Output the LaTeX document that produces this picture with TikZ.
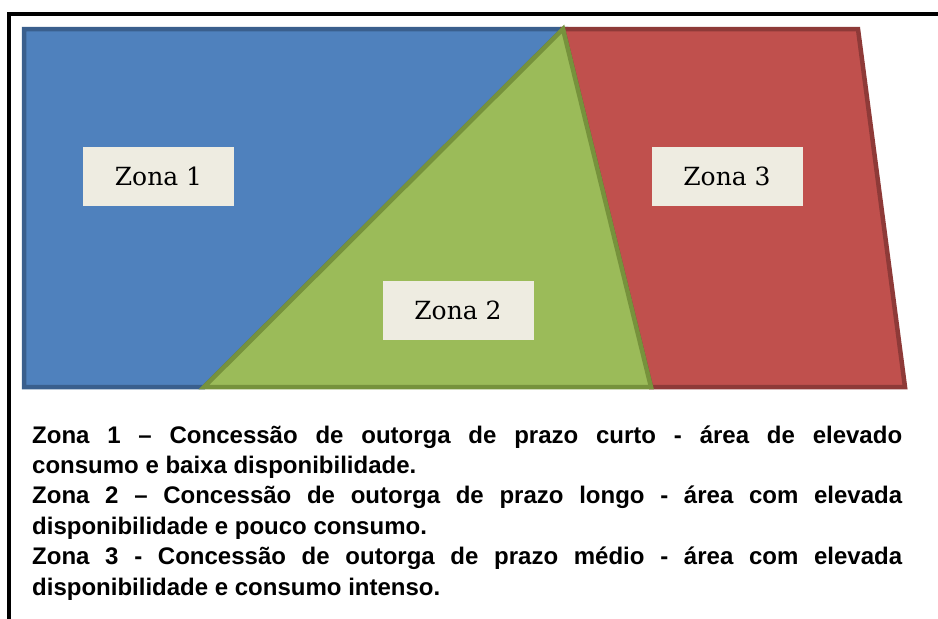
\documentclass[tikz,border=0pt]{standalone}
\usepackage{fontspec}
\setmainfont{Liberation Sans}
\newfontfamily\labelfont{DejaVu Serif}
\newfontfamily\legendfont{Liberation Sans Bold}
\usepackage{tikz}
\usetikzlibrary{positioning}
\definecolor{zoneBlue}{HTML}{4F81BD}
\definecolor{zoneBlueEdge}{HTML}{3A5F8D}
\definecolor{zoneGreen}{HTML}{9BBB59}
\definecolor{zoneGreenEdge}{HTML}{76923C}
\definecolor{zoneRed}{HTML}{C0504D}
\definecolor{zoneRedEdge}{HTML}{8E3A38}
\definecolor{labelBg}{HTML}{EEECE1}

\begin{document}
\begin{tikzpicture}[x=1pt,y=-1pt,
  zonelabel/.style={fill=labelBg,minimum width=151pt,minimum height=59pt,inner sep=0pt,
    font=\labelfont\fontsize{25}{25}\selectfont}]
\def\lw{4.5pt}
\useasboundingbox (0,0) rectangle (938,619);
% frame
\draw[line width=4pt] (9,650) -- (9,14) -- (960,14);
% corners of the zones
\coordinate (tl) at (24,29);
\coordinate (apex) at (563,29);
\coordinate (tr) at (858,29);
\coordinate (bl) at (24,387);
\coordinate (gl) at (204,387);
\coordinate (gr) at (651,387);
\coordinate (br) at (905,387);
\filldraw[fill=zoneBlue,draw=zoneBlueEdge,line width=\lw] (tl) -- (apex) -- (gl) -- (bl) -- cycle;
\filldraw[fill=zoneRed,draw=zoneRedEdge,line width=\lw] (apex) -- (tr) -- (br) -- (gr) -- cycle;
\filldraw[fill=zoneGreen,draw=zoneGreenEdge,line width=\lw] (gl) -- (apex) -- (gr) -- cycle;
\node[zonelabel] (zona1) at (158.5,176.5) {Zona 1};
\node[zonelabel] (zona3) at (727,176.5) {Zona 3};
\node[zonelabel] (zona2) at (458,310.5) {Zona 2};
% legend
\node[anchor=base west,inner sep=0pt,text width=870pt,align=justify,
  font=\legendfont\fontsize{24}{30.4}\selectfont] (legend) at (32,443)
  {Zona 1 – Concessão de outorga de prazo curto - área de elevado\linebreak
   consumo e baixa disponibilidade.\par
   Zona 2 – Concessão de outorga de prazo longo - área com elevada\linebreak
   disponibilidade e pouco consumo.\par
   Zona 3 - Concessão de outorga de prazo médio - área com elevada\linebreak
   disponibilidade e consumo intenso.\par};
\end{tikzpicture}
\end{document}
